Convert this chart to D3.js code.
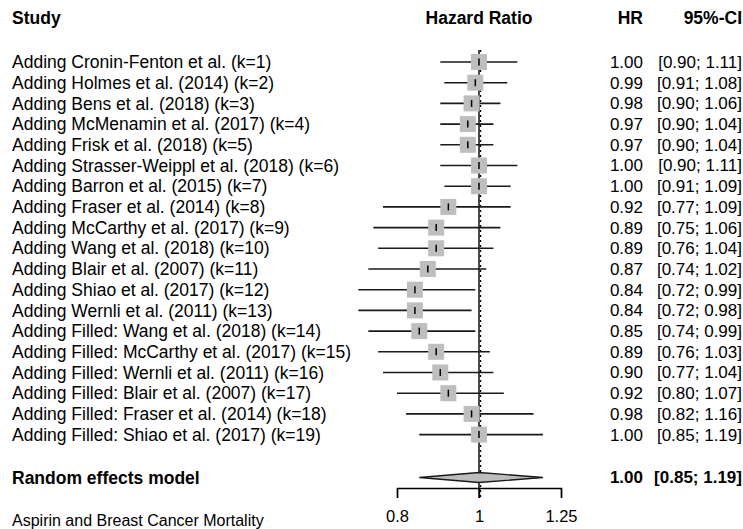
<!DOCTYPE html>
<html>
<head>
<meta charset="utf-8">
<script src="https://cdn.jsdelivr.net/npm/d3@7"></script>
<style>
  body { margin: 0; background: #fff; }
  svg text { font-family: "Liberation Sans", Arial, sans-serif; fill: #000; }
</style>
</head>
<body>
<svg id="chart" width="743" height="529"></svg>
<script>
// Cumulative meta-analysis of aspirin use and breast cancer mortality
const studies = [
  "Adding Cronin-Fenton et al. (k=1)",
  "Adding Holmes et al. (2014) (k=2)",
  "Adding Bens et al. (2018) (k=3)",
  "Adding McMenamin et al. (2017) (k=4)",
  "Adding Frisk et al. (2018) (k=5)",
  "Adding Strasser-Weippl et al. (2018) (k=6)",
  "Adding Barron et al. (2015) (k=7)",
  "Adding Fraser et al. (2014) (k=8)",
  "Adding McCarthy et al. (2017) (k=9)",
  "Adding Wang et al. (2018) (k=10)",
  "Adding Blair et al. (2007) (k=11)",
  "Adding Shiao et al. (2017) (k=12)",
  "Adding Wernli et al. (2011) (k=13)",
  "Adding Filled: Wang et al. (2018) (k=14)",
  "Adding Filled: McCarthy et al. (2017) (k=15)",
  "Adding Filled: Wernli et al. (2011) (k=16)",
  "Adding Filled: Blair et al. (2007) (k=17)",
  "Adding Filled: Fraser et al. (2014) (k=18)",
  "Adding Filled: Shiao et al. (2017) (k=19)"
];
const hr    = [1.00, 0.99, 0.98, 0.97, 0.97, 1.00, 1.00, 0.92, 0.89, 0.89, 0.87, 0.84, 0.84, 0.85, 0.89, 0.90, 0.92, 0.98, 1.00];
const lower = [0.90, 0.91, 0.90, 0.90, 0.90, 0.90, 0.91, 0.77, 0.75, 0.76, 0.74, 0.72, 0.72, 0.74, 0.76, 0.77, 0.80, 0.82, 0.85];
const upper = [1.11, 1.08, 1.06, 1.04, 1.04, 1.11, 1.09, 1.09, 1.06, 1.04, 1.02, 0.99, 0.98, 0.99, 1.03, 1.04, 1.07, 1.16, 1.19];

const pooledLabel = "Random effects model";
const pooled = { hr: 1.00, lower: 0.85, upper: 1.19 };

const axisTicks = [0.8, 1, 1.25];
const axisTitle = "Aspirin and Breast Cancer Mortality";
const headers = { study: "Study", effect: "Hazard Ratio", est: "HR", ci: "95%-CI" };

const fmt = d3.format(".2f");
const svg = d3.select("#chart");

// Log scale for hazard ratios
const x = d3.scaleLog().domain([0.8, 1.25]).range([397, 561]);

// Row positions
const y = d3.scalePoint().domain(d3.range(studies.length)).range([62, 434.6]);
const yPooled = 477.5;
const yAxis = 488;

const fsLabel = 17.5, fsNum = 17, fsTick = 16.5, fsTitle = 16;
const xLabel = 12, xEst = 643, xCI = 742;

// Header
const head = svg.append("g").attr("font-weight", "bold").attr("font-size", fsLabel);
head.append("text").attr("x", xLabel).attr("y", 18).attr("dy", "0.35em").text(headers.study);
head.append("text").attr("x", x(1)).attr("y", 18).attr("dy", "0.35em").attr("text-anchor", "middle").text(headers.effect);
head.append("text").attr("x", xEst).attr("y", 18).attr("dy", "0.35em").attr("text-anchor", "end").text(headers.est);
head.append("text").attr("x", xCI).attr("y", 18).attr("dy", "0.35em").attr("text-anchor", "end").text(headers.ci);

// Reference line at HR = 1 and the pooled estimate line
svg.append("line")
  .attr("x1", x(1)).attr("x2", x(1))
  .attr("y1", 50).attr("y2", 498)
  .attr("stroke", "#000").attr("stroke-width", 1.4);
svg.append("line")
  .attr("x1", x(pooled.hr) + 1.5).attr("x2", x(pooled.hr) + 1.5)
  .attr("y1", 50).attr("y2", 498)
  .attr("stroke", "#000").attr("stroke-width", 1.4)
  .attr("stroke-dasharray", "2,3");

const rows = svg.append("g").selectAll("g")
  .data(studies.map((s, i) => ({ s, i, hr: hr[i], lo: lower[i], hi: upper[i] })))
  .join("g")
  .attr("transform", d => `translate(0,${y(d.i)})`);

// Confidence interval lines
rows.append("line")
  .attr("x1", d => x(d.lo)).attr("x2", d => x(d.hi))
  .attr("stroke", "#1a1a1a").attr("stroke-width", 1.6);

// Squares
const sq = 16;
rows.append("rect")
  .attr("x", d => x(d.hr) - sq / 2).attr("y", -sq / 2)
  .attr("width", sq).attr("height", sq)
  .attr("fill", "#bebebe");

// Point estimate ticks
rows.append("line")
  .attr("x1", d => x(d.hr)).attr("x2", d => x(d.hr))
  .attr("y1", -3.5).attr("y2", 3.5)
  .attr("stroke", "#000").attr("stroke-width", 1.5);

// Study labels and numbers
rows.append("text").attr("x", xLabel).attr("dy", "0.35em").attr("font-size", fsLabel).text(d => d.s);
rows.append("text").attr("x", xEst).attr("dy", "0.35em").attr("font-size", fsNum)
  .attr("text-anchor", "end").text(d => fmt(d.hr));
rows.append("text").attr("x", xCI).attr("dy", "0.35em").attr("font-size", fsNum)
  .attr("text-anchor", "end").text(d => `[${fmt(d.lo)}; ${fmt(d.hi)}]`);

// Pooled estimate
const dh = 5;
svg.append("path")
  .attr("d", d3.line()([
    [x(pooled.lower), yPooled],
    [x(pooled.hr), yPooled - dh],
    [x(pooled.upper), yPooled],
    [x(pooled.hr), yPooled + dh]
  ]) + "Z")
  .attr("fill", "#bdbdbd").attr("stroke", "#1a1a1a").attr("stroke-width", 1.3);

const pg = svg.append("g").attr("font-weight", "bold");
pg.append("text").attr("x", xLabel).attr("y", yPooled).attr("dy", "0.35em").attr("font-size", fsLabel).text(pooledLabel);
pg.append("text").attr("x", xEst).attr("y", yPooled).attr("dy", "0.35em").attr("font-size", fsNum)
  .attr("text-anchor", "end").text(fmt(pooled.hr));
pg.append("text").attr("x", xCI).attr("y", yPooled).attr("dy", "0.35em").attr("font-size", fsNum)
  .attr("text-anchor", "end").text(`[${fmt(pooled.lower)}; ${fmt(pooled.upper)}]`);

// Axis
const axis = svg.append("g").attr("transform", `translate(0,${yAxis})`)
  .call(d3.axisBottom(x).tickValues(axisTicks).tickFormat(d3.format("")).tickSizeOuter(0).tickSize(10).tickPadding(12));
axis.select(".domain").attr("stroke", "#000").attr("stroke-width", 1.4);
axis.selectAll(".tick line").attr("stroke", "#000").attr("stroke-width", 1.4);
axis.selectAll(".tick text").attr("font-size", fsTick).attr("font-family", "Liberation Sans, Arial, sans-serif").attr("fill", "#000");

svg.append("text").attr("x", xLabel).attr("y", 520).attr("dy", "0.35em").attr("font-size", fsTitle).text(axisTitle);
</script>
</body>
</html>
